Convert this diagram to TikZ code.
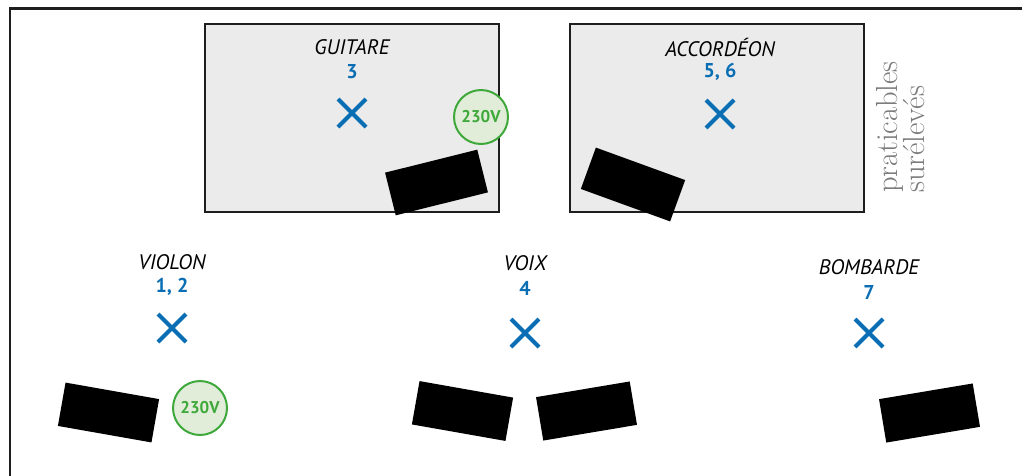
\documentclass[tikz,border=0pt]{standalone}
\usepackage{fontspec}
\setmainfont{Latin Modern Roman}
\newfontfamily\labfont{PT Sans}
\definecolor{micblue}{HTML}{0A6EB4}
\definecolor{voltgreen}{HTML}{3EA83A}
\definecolor{voltfill}{HTML}{E1EDD9}
\definecolor{riserfill}{HTML}{EBEBEB}
\definecolor{framegray}{HTML}{1E1E1E}
\definecolor{notegray}{HTML}{7A7A7A}
\tikzset{
  riser/.style={draw=framegray, line width=2pt, fill=riserfill},
  speaker/.style={rectangle, fill=black, minimum width=95pt, minimum height=44pt, inner sep=0pt},
  volt/.style={circle, draw=voltgreen, line width=2pt, fill=voltfill, minimum size=54pt, inner sep=0pt,
               text=voltgreen, font=\labfont\bfseries\fontsize{17pt}{19pt}\selectfont},
  instr/.style={font=\labfont\itshape\fontsize{21pt}{23pt}\selectfont, inner sep=0pt},
  micnum/.style={font=\labfont\bfseries\fontsize{20pt}{22pt}\selectfont, text=micblue, inner sep=0pt},
  cross/.style={draw=micblue, line width=4pt},
  note/.style={rotate=90, anchor=base west, inner sep=0pt, text=notegray, font=\fontsize{30.5pt}{32pt}\selectfont},
}
\begin{document}
\begin{tikzpicture}[x=1pt, y=-1pt]
\useasboundingbox (0,0) rectangle (1022,475);
% stage frame
\coordinate (fbl) at (10,476);
\coordinate (ftl) at (10,8.5);
\coordinate (ftr) at (1023,8.5);
\draw[framegray, line width=2.5pt] (fbl) -- (ftl) -- (ftr);
% risers
\draw[riser] (205,24) rectangle (499,212);
\draw[riser] (570,24) rectangle (864,212);
% speakers
\node[speaker, rotate=14] (spg) at (436.5,182.5) {};
\node[speaker, rotate=-20] (spa) at (633,184.5) {};
\node[speaker, rotate=-10] (spv) at (108.5,412.5) {};
\node[speaker, rotate=-10] (spx1) at (462.5,411) {};
\node[speaker, rotate=9.5] (spx2) at (586.5,411) {};
\node[speaker, rotate=9.5] (spb) at (929.5,413) {};
% power
\node[volt] (pg) at (481,117) {230V};
\node[volt] (pv) at (200,408) {230V};
% labels
\node[instr] (lg) at (352,47) {GUITARE};
\node[micnum] (ng) at (352,72) {3};
\node[instr] (la) at (720,47) {ACCORDÉON};
\node[micnum] (na) at (720,72) {5, 6};
\node[instr] (lv) at (172,262) {VIOLON};
\node[micnum] (nv) at (172,287) {1, 2};
\node[instr] (lx) at (525,263) {VOIX};
\node[micnum] (nx) at (525,288) {4};
\node[instr] (lb) at (869,267) {BOMBARDE};
\node[micnum] (nb) at (869,292) {7};
% mic crosses
\coordinate (mg) at (352,113);
\coordinate (ma) at (720,114);
\coordinate (mv) at (172,328);
\coordinate (mx) at (525,333);
\coordinate (mb) at (869,333);
\foreach \m in {mg,ma,mv,mx,mb}{
  \draw[cross] (\m) ++(-14,-14) -- ++(28,28);
  \draw[cross] (\m) ++(-14,14) -- ++(28,-28);
}
% note
\node[note] (n1) at (897,193) {praticables};
\node[note] (n2) at (924,193) {surélevés};
\end{tikzpicture}
\end{document}
